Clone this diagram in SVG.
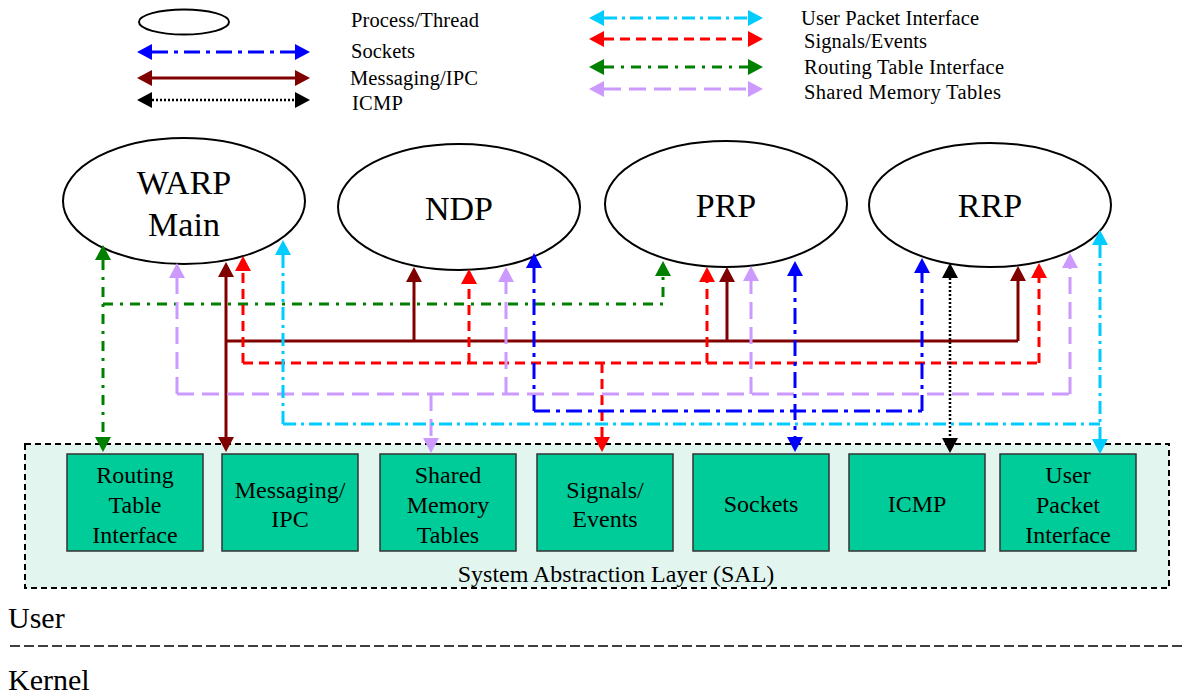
<svg xmlns="http://www.w3.org/2000/svg" width="1186" height="696" viewBox="0 0 1186 696">
  <style>
    .t { font-family: "Liberation Serif", "Times New Roman", serif; fill: #000; }
    .lg { font-size: 20.5px; }
    .bx { font-size: 24px; text-anchor: middle; }
    .el { font-size: 34px; text-anchor: middle; }
    .big { font-size: 30px; }
    .proc { fill: #fff; stroke: #000; stroke-width: 2; }
    .box { fill: #00CC99; stroke: #333; stroke-width: 1.5; }
    .sal { fill: #E2F6EF; stroke: #000; stroke-width: 2; stroke-dasharray: 6 4; }
    .c { fill: none; stroke-width: 3; }
    .sock { stroke: #0000FF; stroke-dasharray: 16 6 4 6; }
    .msg { stroke: #800000; }
    .icmp { stroke: #000; stroke-width: 2.5; stroke-dasharray: 2 2; }
    .upi { stroke: #00CCFF; stroke-dasharray: 13 5 3 5; }
    .sig { stroke: #FF0000; stroke-dasharray: 10 6; }
    .rti { stroke: #008000; stroke-dasharray: 10 7 3 7; }
    .shm { stroke: #CC99FF; stroke-dasharray: 17 8; }
    .sock.a { marker-start: url(#hBlue); marker-end: url(#hBlue); }
    .msg.a { marker-start: url(#hBrown); marker-end: url(#hBrown); }
    .icmp.a { marker-start: url(#hBlack); marker-end: url(#hBlack); }
    .upi.a { marker-start: url(#hCyan); marker-end: url(#hCyan); }
    .sig.a { marker-start: url(#hRed); marker-end: url(#hRed); }
    .rti.a { marker-start: url(#hGreen); marker-end: url(#hGreen); }
    .shm.a { marker-start: url(#hLav); marker-end: url(#hLav); }
    .sock.e { marker-end: url(#hBlue); }
    .msg.e { marker-end: url(#hBrown); }
    .upi.e { marker-end: url(#hCyan); }
    .sig.e { marker-end: url(#hRed); }
    .rti.e { marker-end: url(#hGreen); }
    .shm.e { marker-end: url(#hLav); }
  </style>
  <defs>
    <!-- arrowheads: base sits on the line end, tip extends 15px beyond -->
    <marker id="hBlue" markerUnits="userSpaceOnUse" viewBox="0 0 15 16" markerWidth="15" markerHeight="16" refX="0" refY="8" orient="auto-start-reverse"><path d="M0,0 L15,8 L0,16 Z" fill="#0000FF"/></marker>
    <marker id="hBrown" markerUnits="userSpaceOnUse" viewBox="0 0 15 16" markerWidth="15" markerHeight="16" refX="0" refY="8" orient="auto-start-reverse"><path d="M0,0 L15,8 L0,16 Z" fill="#800000"/></marker>
    <marker id="hBlack" markerUnits="userSpaceOnUse" viewBox="0 0 15 16" markerWidth="15" markerHeight="16" refX="0" refY="8" orient="auto-start-reverse"><path d="M0,0 L15,8 L0,16 Z" fill="#000"/></marker>
    <marker id="hCyan" markerUnits="userSpaceOnUse" viewBox="0 0 15 16" markerWidth="15" markerHeight="16" refX="0" refY="8" orient="auto-start-reverse"><path d="M0,0 L15,8 L0,16 Z" fill="#00CCFF"/></marker>
    <marker id="hRed" markerUnits="userSpaceOnUse" viewBox="0 0 15 16" markerWidth="15" markerHeight="16" refX="0" refY="8" orient="auto-start-reverse"><path d="M0,0 L15,8 L0,16 Z" fill="#FF0000"/></marker>
    <marker id="hGreen" markerUnits="userSpaceOnUse" viewBox="0 0 15 16" markerWidth="15" markerHeight="16" refX="0" refY="8" orient="auto-start-reverse"><path d="M0,0 L15,8 L0,16 Z" fill="#008000"/></marker>
    <marker id="hLav" markerUnits="userSpaceOnUse" viewBox="0 0 15 16" markerWidth="15" markerHeight="16" refX="0" refY="8" orient="auto-start-reverse"><path d="M0,0 L15,8 L0,16 Z" fill="#CC99FF"/></marker>
  </defs>

  <rect width="1186" height="696" fill="#fff"/>

  <!-- legend -->
  <g id="legend">
    <ellipse class="proc" cx="184" cy="22" rx="45" ry="12.5"/>
    <path class="c sock a" d="M152,52 H295"/>
    <path class="c msg a" d="M152,78 H295"/>
    <path class="c icmp a" d="M152,100 H295"/>
    <text class="t lg" x="351" y="27" textLength="128">Process/Thread</text>
    <text class="t lg" x="351" y="58" textLength="64">Sockets</text>
    <text class="t lg" x="350" y="85" textLength="128">Messaging/IPC</text>
    <text class="t lg" x="352" y="110" textLength="51">ICMP</text>

    <path class="c upi a" d="M604,18 H748"/>
    <path class="c sig a" d="M604,39 H748"/>
    <path class="c rti a" d="M604,67 H748"/>
    <path class="c shm a" d="M604,89 H748"/>
    <text class="t lg" x="801" y="25" textLength="178">User Packet Interface</text>
    <text class="t lg" x="804" y="48" textLength="123">Signals/Events</text>
    <text class="t lg" x="804" y="74" textLength="200">Routing Table Interface</text>
    <text class="t lg" x="804" y="99" textLength="197">Shared Memory Tables</text>
  </g>

  <!-- system abstraction layer -->
  <g id="sal">
    <rect class="sal" x="25" y="444" width="1144" height="144"/>
    <text class="t bx" x="616" y="582">System Abstraction Layer (SAL)</text>
  </g>

  <!-- SAL services -->
  <g id="routing-table-interface">
    <rect class="box" x="67" y="454" width="136" height="97"/>
    <text class="t bx" x="135" y="483">Routing</text>
    <text class="t bx" x="135" y="513">Table</text>
    <text class="t bx" x="135" y="543">Interface</text>
  </g>
  <g id="messaging-ipc">
    <rect class="box" x="222" y="454" width="136" height="97"/>
    <text class="t bx" x="290" y="498">Messaging/</text>
    <text class="t bx" x="290" y="527">IPC</text>
  </g>
  <g id="shared-memory-tables">
    <rect class="box" x="380" y="454" width="136" height="97"/>
    <text class="t bx" x="448" y="483">Shared</text>
    <text class="t bx" x="448" y="513">Memory</text>
    <text class="t bx" x="448" y="543">Tables</text>
  </g>
  <g id="signals-events">
    <rect class="box" x="537" y="454" width="136" height="97"/>
    <text class="t bx" x="605" y="498">Signals/</text>
    <text class="t bx" x="605" y="527">Events</text>
  </g>
  <g id="sockets">
    <rect class="box" x="693" y="454" width="136" height="97"/>
    <text class="t bx" x="761" y="512">Sockets</text>
  </g>
  <g id="icmp">
    <rect class="box" x="849" y="454" width="136" height="97"/>
    <text class="t bx" x="917" y="512">ICMP</text>
  </g>
  <g id="user-packet-interface">
    <rect class="box" x="1000" y="454" width="136" height="97"/>
    <text class="t bx" x="1068" y="483">User</text>
    <text class="t bx" x="1068" y="513">Packet</text>
    <text class="t bx" x="1068" y="543">Interface</text>
  </g>

  <!-- processes -->
  <g id="warp-main">
    <ellipse class="proc" cx="184" cy="201" rx="121" ry="63"/>
    <text class="t el" x="184" y="194">WARP</text>
    <text class="t el" x="184" y="236">Main</text>
  </g>
  <g id="ndp">
    <ellipse class="proc" cx="459" cy="207" rx="121" ry="63"/>
    <text class="t el" x="459" y="220">NDP</text>
  </g>
  <g id="prp">
    <ellipse class="proc" cx="726" cy="204" rx="121" ry="63"/>
    <text class="t el" x="726" y="217">PRP</text>
  </g>
  <g id="rrp">
    <ellipse class="proc" cx="990" cy="205" rx="121" ry="62"/>
    <text class="t el" x="990" y="217">RRP</text>
  </g>

  <!-- connectors -->
  <g id="connectors">
    <!-- routing table interface -->
    <path class="c rti a" d="M103,260 V437"/>
    <path class="c rti e" d="M103,304 H663 V276"/>
    <!-- messaging / IPC -->
    <path class="c msg a" d="M226,277 V437"/>
    <path class="c msg" d="M226,341 H1018"/>
    <path class="c msg e" d="M414,341 V282"/>
    <path class="c msg e" d="M727,341 V282"/>
    <path class="c msg e" d="M1018,341 V281"/>
    <!-- signals / events -->
    <path class="c sig" d="M243,363 H1039"/>
    <path class="c sig e" d="M243,363 V271"/>
    <path class="c sig e" d="M469,363 V284"/>
    <path class="c sig e" d="M707,363 V282"/>
    <path class="c sig e" d="M1039,363 V278"/>
    <path class="c sig e" d="M602,363 V437"/>
    <!-- shared memory tables -->
    <path class="c shm" d="M177,394 H1070"/>
    <path class="c shm e" d="M177,394 V278"/>
    <path class="c shm e" d="M506,394 V282"/>
    <path class="c shm e" d="M751,394 V281"/>
    <path class="c shm e" d="M1070,394 V268"/>
    <path class="c shm e" d="M431,394 V438"/>
    <!-- sockets -->
    <path class="c sock" d="M534,411 H922"/>
    <path class="c sock e" d="M534,411 V268"/>
    <path class="c sock e" d="M922,411 V273"/>
    <path class="c sock a" d="M795,276 V437"/>
    <!-- ICMP -->
    <path class="c icmp a" d="M950,278 V438"/>
    <!-- user packet interface -->
    <path class="c upi" d="M283,424 H1100"/>
    <path class="c upi e" d="M283,424 V255"/>
    <path class="c upi a" d="M1100,245 V439"/>
  </g>

  <!-- user / kernel boundary -->
  <g id="boundary">
    <text class="t big" x="8" y="628">User</text>
    <line x1="10" y1="646" x2="1186" y2="646" stroke="#000" stroke-width="1.5" stroke-dasharray="10 4"/>
    <text class="t big" x="8" y="690">Kernel</text>
  </g>
</svg>
